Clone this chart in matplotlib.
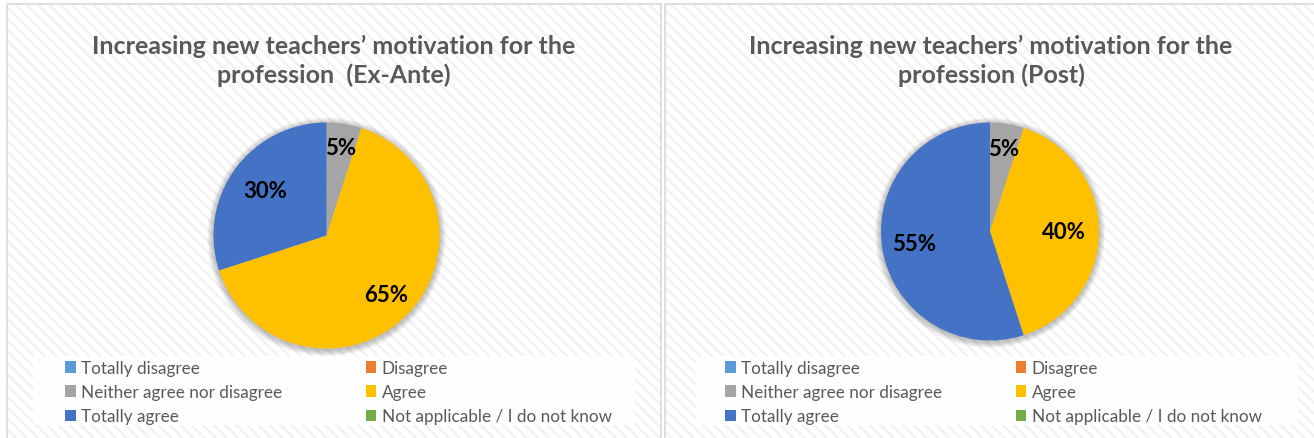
import matplotlib
matplotlib.use("Agg")
import numpy as np
import matplotlib.pyplot as plt
from matplotlib.patches import Rectangle, Circle

# Survey answer categories and shares (%) before and after the programme
categories = [
    "Totally disagree",
    "Disagree",
    "Neither agree nor disagree",
    "Agree",
    "Totally agree",
    "Not applicable / I do not know",
]
ex_ante = [0, 0, 5, 65, 30, 0]
post = [0, 0, 5, 40, 55, 0]

titles = [
    "Increasing new teachers\u2019 motivation for the\nprofession  (Ex-Ante)",
    "Increasing new teachers\u2019 motivation for the\nprofession (Post)",
]

colors = ["#5B9BD5", "#ED7D31", "#A5A5A5", "#FFC000", "#4472C4", "#70AD47"]

FONT = ["Lato", "DejaVu Sans"]
plt.rcParams["font.family"] = FONT
plt.rcParams["hatch.linewidth"] = 1.6

W, H = 1314, 439
fig = plt.figure(figsize=(W / 100, H / 100), dpi=100)
fig.patch.set_facecolor("white")

# background canvas in pixel coordinates (origin at top-left)
bg = fig.add_axes([0, 0, 1, 1])
bg.set_xlim(0, W)
bg.set_ylim(H, 0)
bg.axis("off")


def px_axes(cx, cy, size):
    """Square axes of `size` px centred on pixel (cx, cy)."""
    return fig.add_axes([(cx - size / 2) / W, 1 - (cy + size / 2) / H, size / W, size / H])


LEG_FS = 12.3
panels = [
    dict(x0=7, x1=661, pie=(326.5, 236.5, 113), title_x=334,
         legend_box=(33, 357, 602, 69), legend_x=65, colspace=84,
         label_r=[0, 0, 0.79, 0.74, 0.67, 0]),
    dict(x0=665, x1=1320, pie=(990, 232.5, 109), title_x=991,
         legend_box=(696, 357, 602, 69), legend_x=725, colspace=74,
         label_r=[0, 0, 0.77, 0.68, 0.71, 0]),
]

for panel, values, title in zip(panels, [ex_ante, post], titles):
    # hatched chart-area background and its border
    bg.add_patch(Rectangle((panel["x0"], 5), panel["x1"] - panel["x0"], 450,
                           facecolor="white", edgecolor="#f1f1f1", hatch="\\\\\\",
                           linewidth=0, zorder=0))
    bg.add_patch(Rectangle((panel["x0"], 5), panel["x1"] - panel["x0"], 450,
                           facecolor="none", edgecolor="#d9d9d9", linewidth=1.2, zorder=1))

    bg.text(panel["title_x"], 61, title, ha="center", va="center", fontsize=18,
            fontweight="bold", color="#595959", linespacing=1.3, zorder=3)

    # legend box
    lx, ly, lw, lh = panel["legend_box"]
    bg.add_patch(Rectangle((lx, ly), lw, lh, facecolor="white", edgecolor="none",
                           alpha=0.9, zorder=2))

    cx, cy, r = panel["pie"]
    size = 2.6 * r
    ax = px_axes(cx, cy, size)

    # soft shadow beneath the pie
    for k in range(8):
        ax.add_patch(Circle((0, -0.012), 1.0 + 0.007 * (k + 1), facecolor="#000000",
                            alpha=0.03, edgecolor="none", zorder=0))

    wedges, _, autotexts = ax.pie(
        values, colors=colors, startangle=90, counterclock=False,
        autopct=lambda p: f"{p:.0f}%" if p > 0 else "",
        pctdistance=0.75, wedgeprops=dict(linewidth=0),
        textprops=dict(fontsize=16, fontweight="bold", color="black"),
    )
    for w in wedges:
        w.set_zorder(2)

    # move each percentage label to its own radial distance
    for w, t, rr in zip(wedges, autotexts, panel["label_r"]):
        if not t.get_text():
            continue
        ang = np.deg2rad((w.theta1 + w.theta2) / 2)
        t.set_position((rr * np.cos(ang), rr * np.sin(ang)))
        t.set_zorder(3)

    ax.set_xlim(-1.3, 1.3)
    ax.set_ylim(-1.3, 1.3)
    ax.set_aspect("equal")

    # legend laid out row by row: (TD, D), (N, A), (TA, NA)
    order = [0, 2, 4, 1, 3, 5]
    handles = [Rectangle((0, 0), 1, 1, facecolor=colors[i], edgecolor="none") for i in order]
    labels = [categories[i] for i in order]
    fs_px = LEG_FS * 100 / 72
    leg = fig.legend(handles, labels, ncol=2, loc="upper left",
                     bbox_to_anchor=(panel["legend_x"] / W, 1 - 361 / H),
                     frameon=False, fontsize=LEG_FS, handlelength=0.62, handleheight=0.62,
                     handletextpad=0.3, columnspacing=panel["colspace"] / fs_px,
                     labelspacing=0.47, borderpad=0, borderaxespad=0)
    for t in leg.get_texts():
        t.set_color("#595959")

fig.savefig("out.png", dpi=100, facecolor="white")
